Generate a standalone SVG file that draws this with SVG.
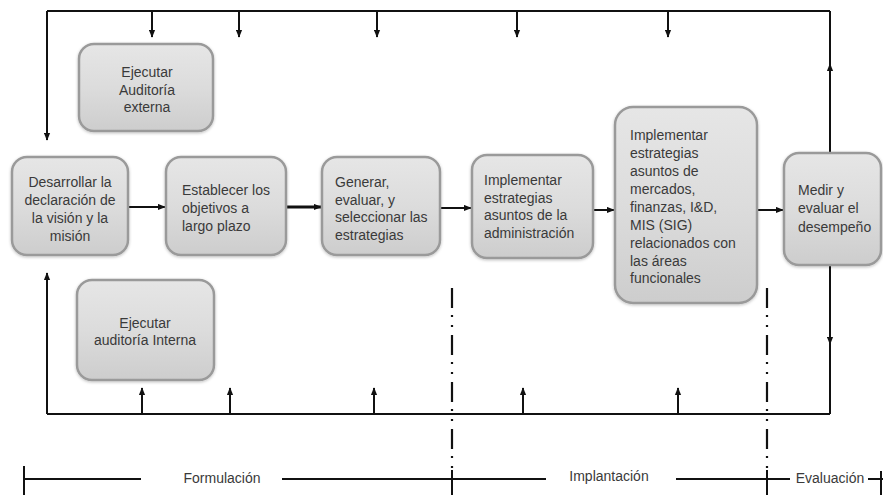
<svg xmlns="http://www.w3.org/2000/svg" width="883" height="495" viewBox="0 0 883 495">
  <style>
    .box { fill: url(#boxFill); stroke: #9a9a9a; stroke-width: 2.5; filter: url(#soft); }
    .lbl { font-family: "Liberation Sans", Arial, sans-serif; font-size: 14px; fill: #3a3a3a; }
    .mid { text-anchor: middle; }
    .ln { stroke: #111; stroke-width: 2; fill: none; }
    .arr { stroke: #111; stroke-width: 2; fill: none; marker-end: url(#head); }
    .phase { stroke: #111; stroke-width: 2.2; fill: none; stroke-dasharray: 20 7 2 8 2 8; }
  </style>
  <defs>
    <linearGradient id="boxFill" x1="0" y1="0" x2="0" y2="1">
      <stop offset="0" stop-color="#e6e6e6"/>
      <stop offset="0.5" stop-color="#dcdcdc"/>
      <stop offset="1" stop-color="#cdcdcd"/>
    </linearGradient>
    <filter id="soft" x="-10%" y="-10%" width="120%" height="120%">
      <feGaussianBlur in="SourceAlpha" stdDeviation="1.5"/>
      <feOffset dx="0" dy="1" result="sh"/>
      <feFlood flood-color="#000" flood-opacity="0.25"/>
      <feComposite in2="sh" operator="in"/>
      <feMerge>
        <feMergeNode/>
        <feMergeNode in="SourceGraphic"/>
      </feMerge>
    </filter>
    <marker id="head" viewBox="0 0 10 8" refX="9" refY="4" markerWidth="8" markerHeight="7" markerUnits="userSpaceOnUse" orient="auto">
      <path d="M0,0 L10,4 L0,8 z" fill="#111"/>
    </marker>
  </defs>

  <!-- feedback loop and flow connectors -->
  <g id="connectors">
    <!-- top frame -->
    <path class="ln" d="M47,11 H830"/>
    <path class="arr" d="M47,11 V140"/>
    <path class="arr" d="M152,11 V37"/>
    <path class="arr" d="M239,11 V37"/>
    <path class="arr" d="M377,11 V37"/>
    <path class="arr" d="M517,11 V37"/>
    <path class="arr" d="M668,11 V37"/>
    <!-- right side -->
    <path class="arr" d="M830,153 V64"/>
    <path class="ln" d="M830,66 V11"/>
    <path class="arr" d="M830,265 V344"/>
    <path class="ln" d="M830,342 V414"/>
    <!-- bottom frame -->
    <path class="ln" d="M47,414 H830"/>
    <path class="arr" d="M47,414 V273"/>
    <path class="arr" d="M142,414 V388"/>
    <path class="arr" d="M230,414 V388"/>
    <path class="arr" d="M374,414 V388"/>
    <path class="arr" d="M523,414 V388"/>
    <path class="arr" d="M678,414 V388"/>
    <!-- process chain -->
    <path class="arr" d="M128,207 H165"/>
    <path class="arr" d="M286,207 H321" style="stroke-width:2.8"/>
    <path class="arr" d="M440,208 H471"/>
    <path class="arr" d="M593,210 H614"/>
    <path class="arr" d="M757,210 H783"/>
  </g>

  <g id="n-auditoria-externa">
    <rect class="box" x="79" y="44" width="134" height="87" rx="15"/>
    <text class="lbl mid" x="147" y="77">Ejecutar</text>
    <text class="lbl mid" x="147" y="95">Auditoría</text>
    <text class="lbl mid" x="147" y="112">externa</text>
  </g>

  <g id="n-vision">
    <rect class="box" x="12" y="157" width="116" height="98" rx="15"/>
    <text class="lbl mid" x="70" y="187">Desarrollar la</text>
    <text class="lbl mid" x="70" y="205">declaración de</text>
    <text class="lbl mid" x="70" y="223">la visión y la</text>
    <text class="lbl mid" x="70" y="241">misión</text>
  </g>

  <g id="n-objetivos">
    <rect class="box" x="166" y="157" width="120" height="98" rx="15"/>
    <text class="lbl" x="182" y="195">Establecer los</text>
    <text class="lbl" x="182" y="213">objetivos a</text>
    <text class="lbl" x="182" y="231">largo plazo</text>
  </g>

  <g id="n-estrategias">
    <rect class="box" x="322" y="157" width="118" height="98" rx="15"/>
    <text class="lbl" x="335" y="187">Generar,</text>
    <text class="lbl" x="335" y="204.5">evaluar, y</text>
    <text class="lbl" x="335" y="222">seleccionar las</text>
    <text class="lbl" x="335" y="239.5">estrategias</text>
  </g>

  <g id="n-administracion">
    <rect class="box" x="472" y="155" width="121" height="103" rx="15"/>
    <text class="lbl" x="484" y="185">Implementar</text>
    <text class="lbl" x="484" y="202.5">estrategias</text>
    <text class="lbl" x="484" y="220">asuntos de la</text>
    <text class="lbl" x="484" y="237.5">administración</text>
  </g>

  <g id="n-funcionales">
    <rect class="box" x="615" y="107" width="142" height="196" rx="18"/>
    <text class="lbl" x="630" y="140">Implementar</text>
    <text class="lbl" x="630" y="158">estrategias</text>
    <text class="lbl" x="630" y="176">asuntos de</text>
    <text class="lbl" x="630" y="194">mercados,</text>
    <text class="lbl" x="630" y="212">finanzas, I&amp;D,</text>
    <text class="lbl" x="630" y="230">MIS (SIG)</text>
    <text class="lbl" x="630" y="248">relacionados con</text>
    <text class="lbl" x="630" y="266">las áreas</text>
    <text class="lbl" x="630" y="283">funcionales</text>
  </g>

  <g id="n-desempeno">
    <rect class="box" x="784" y="153" width="97" height="112" rx="15"/>
    <text class="lbl" x="798" y="195">Medir y</text>
    <text class="lbl" x="798" y="213">evaluar el</text>
    <text class="lbl" x="798" y="232">desempeño</text>
  </g>

  <g id="n-auditoria-interna">
    <rect class="box" x="77" y="280" width="137" height="100" rx="15"/>
    <text class="lbl mid" x="145" y="328">Ejecutar</text>
    <text class="lbl mid" x="145" y="345">auditoría Interna</text>
  </g>

  <!-- phase dividers and timeline -->
  <g id="phases">
    <path class="phase" d="M452,288 V470"/>
    <path class="phase" d="M767,288 V470"/>
    <path class="ln" d="M452,470 V495"/>
    <path class="ln" d="M767,470 V495"/>
    <path class="ln" d="M24,466 V495"/>
    <path class="ln" d="M881,471 V495"/>
    <path class="ln" d="M24,479 H141"/>
    <path class="ln" d="M282,479 H546"/>
    <path class="ln" d="M676,479 H790"/>
    <path class="ln" d="M868,479 H883"/>
    <text class="lbl mid" x="222" y="483">Formulación</text>
    <text class="lbl mid" x="609" y="481">Implantación</text>
    <text class="lbl mid" x="830" y="483">Evaluación</text>
  </g>
</svg>
